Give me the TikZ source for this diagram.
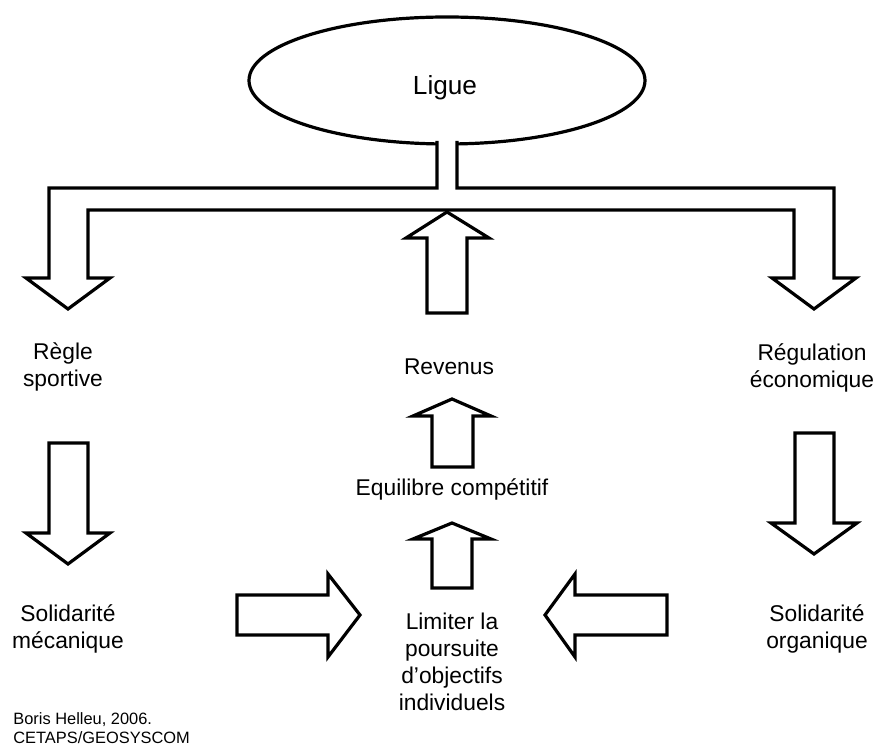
\documentclass[tikz,border=0pt]{standalone}
\usepackage{fontspec}
\setmainfont{Liberation Sans}
\usepackage{tikz}
\usetikzlibrary{shapes.geometric, positioning}

\begin{document}
\begin{tikzpicture}[
  x=0.5pt, y=-0.5pt,
  blk/.style={draw, line width=1.6pt, fill=white, line join=miter},
  lbl/.style={align=center, inner sep=0pt, font=\fontsize{11.4}{13.6}\selectfont},
  srclbl/.style={align=left, inner sep=0pt, font=\fontsize{8.2}{9.5}\selectfont}
]
  \useasboundingbox (0,0) rectangle (879,747);

  % league and its split arrow
  \node[draw, ellipse, line width=1.6pt, fill=white, inner sep=0pt,
        minimum width=198pt, minimum height=63.5pt] (ligue) at (447,80.5) {};
  \node[lbl, font=\fontsize{13.1}{15}\selectfont] (liguetxt) at (445,88) {Ligue};

  \fill[white] (437,140) -- (437,188) -- (49,188) -- (49,278) -- (26,278)
    -- (68,309) -- (110,278) -- (88,278) -- (88,210) -- (794,210) -- (794,278)
    -- (772,278) -- (814,309) -- (856,278) -- (834,278) -- (834,188)
    -- (457,188) -- (457,140) -- cycle;
  \draw[line width=1.6pt, line join=miter] (437,141) -- (437,188) -- (49,188)
    -- (49,278) -- (26,278) -- (68,309) -- (110,278) -- (88,278) -- (88,210)
    -- (794,210) -- (794,278) -- (772,278) -- (814,309) -- (856,278)
    -- (834,278) -- (834,188) -- (457,188) -- (457,141);

  % labels
  \node[lbl] (regle)   at (63,367)  {Règle\\sportive};
  \node[lbl] (regul)   at (812,368) {Régulation\\économique};
  \node[lbl] (revenus) at (449,367) {Revenus};
  \node[lbl] (equil)   at (452,489) {Equilibre compétitif};
  \node[lbl] (solmec)  at (68,629)  {Solidarité\\mécanique};
  \node[lbl] (solorg)  at (817,629) {Solidarité\\organique};
  \node[lbl] (limiter) at (452,662) {Limiter la\\poursuite\\d’objectifs\\individuels};
  \node[srclbl, anchor=west] (source) at (13,728) {Boris Helleu, 2006.\\CETAPS/GEOSYSCOM};

  % block arrows
  \draw[blk] (447,212) -- (489,238) -- (467,238) -- (467,313) -- (427,313)
    -- (427,238) -- (406,238) -- cycle;
  \draw[blk] (452,399) -- (491,416) -- (473,416) -- (473,467) -- (432,467)
    -- (432,416) -- (413,416) -- cycle;
  \draw[blk] (452,523) -- (491,539) -- (472,539) -- (472,588) -- (432,588)
    -- (432,539) -- (413,539) -- cycle;
  \draw[blk] (49,443) -- (88,443) -- (88,533) -- (110,533) -- (68,564)
    -- (26,533) -- (49,533) -- cycle;
  \draw[blk] (795,433) -- (834,433) -- (834,523) -- (857,523) -- (814,554)
    -- (771,523) -- (795,523) -- cycle;
  \draw[blk] (237,595) -- (328,595) -- (328,574) -- (360,615) -- (328,657)
    -- (328,635) -- (237,635) -- cycle;
  \draw[blk] (667,595) -- (575,595) -- (575,574) -- (545,615) -- (575,657)
    -- (575,635) -- (667,635) -- cycle;
\end{tikzpicture}
\end{document}
